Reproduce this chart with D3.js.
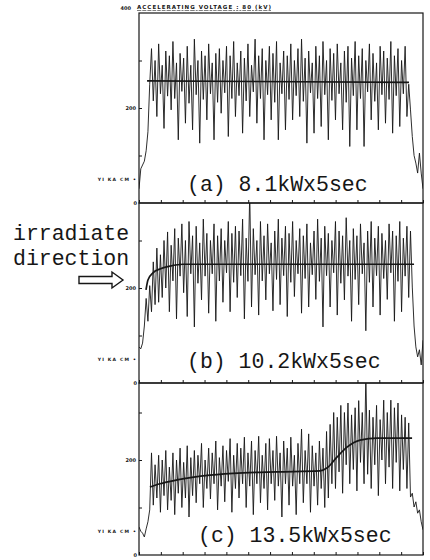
<!DOCTYPE html>
<html>
<head>
<meta charset="utf-8">
<script src="https://cdn.jsdelivr.net/npm/d3@7"></script>
<style>
  body { margin: 0; background: #fff; }
  svg { display: block; }
</style>
</head>
<body>
<div id="chart"></div>
<script>
// sampled signal, one value every step across the panel (units of the left axis)
const sigA = [30,72,80,88,110,150,250,
  325,215,300,182,335,230,290,157,320,225,310,196,340,220,295,133,315,235,305,168,330,210,290,154,345,228,300,126,320,218,310,175,335,230,295,133,315,212,325,189,300,232,330,140,310,220,340,182,295,226,320,147,305,215,335,182,290,234,345,168,310,220,325,133,300,228,330,175,315,212,340,133,295,230,320,154,310,218,335,175,300,226,325,182,345,214,305,126,320,232,295,147,330,220,310,161,340,228,300,133,325,216,315,175,335,230,295,154,320,212,330,119,305,226,340,154,310,220,325,119,300,234,335,175,315,214,295,154,330,228,320,168,305,218,340,147,310,226,325,161,300,230,330,182,
  250,196,140,100,84,63,105,63,30];

const sigB = [76,72,84,120,178,130,205,150,255,165,284,170,270,180,
  300,200,318,150,290,215,325,135,305,225,335,190,300,140,340,230,310,118,330,210,295,175,345,225,315,147,300,230,335,130,310,215,325,170,300,232,340,150,315,212,330,180,320,226,345,135,305,214,400,160,325,228,300,143,340,215,310,175,335,230,295,152,320,218,345,165,305,226,330,140,315,212,340,182,300,230,325,147,310,220,335,160,295,228,320,176,345,214,305,118,330,226,315,160,300,232,340,143,320,210,310,175,348,225,300,130,325,218,310,165,335,230,295,110,320,212,340,160,305,226,330,143,315,220,300,176,335,232,320,130,310,214,340,150,305,225,
  330,180,320,202,120,76,55,70,38,90];

const sigC = [59,50,46,38,55,70,95,
  215,105,190,120,210,90,200,125,220,95,185,115,215,85,200,130,225,100,195,120,230,80,205,125,220,110,210,150,235,100,200,140,225,118,215,150,240,95,205,145,230,112,220,155,245,90,210,140,235,120,225,150,248,100,215,145,240,85,220,150,250,110,210,140,235,95,245,150,220,115,250,145,215,80,240,150,225,105,248,145,210,85,235,150,265,110,220,150,255,90,230,145,215,105,240,140,225,100,260,120,275,150,300,140,290,175,315,130,300,190,320,150,295,180,310,135,325,195,300,150,380,170,305,140,290,190,315,125,285,200,326,150,300,185,326,140,310,195,320,135,295,180,
  290,140,278,122,130,101,112,88,95,70,53];

// smoothed fit curves [x division, value]
const fitA = [[0.37,257],[12.36,254]];
const fitB = [[0.32,196],[0.41,217],[0.64,232],[0.96,240],[1.42,246],[2.01,250],[12.59,250]];
const fitC = [[0.50,143],[0.96,150],[1.74,158],[3.25,168],[4.76,173],[6.32,175],[8.28,177],[8.6,183],[9.06,206],[9.52,227],[10.12,242],[10.9,246],[12.5,246]];

const panelLabels = ["(a) 8.1kWx5sec", "(b) 10.2kWx5sec", "(c) 13.5kWx5sec"];
const yTicks = [100, 200, 300];
const yLabelTick = 200;
const markValue = 50;
const xTicks = d3.range(0, 14);
const titleText = "ACCELERATING VOLTAGE :  80 (kV)";

const W = 430, H = 560;
const svg = d3.select("#chart").append("svg")
  .attr("width", W).attr("height", H);

const ink = "#161616";
const x = d3.scaleLinear().domain([0, 13]).range([139, 423]);

const panels = [
  { sig: sigA, fit: fitA, top: 13, bottom: 203, lx: 187, ly: 191 },
  { sig: sigB, fit: fitB, top: 203, bottom: 383, lx: 187, ly: 368 },
  { sig: sigC, fit: fitC, top: 383, bottom: 555, lx: 198, ly: 542 }
];

panels.forEach((p, k) => {
  const y = d3.scaleLinear().domain([0, 400]).range([p.bottom, p.bottom - 190]);
  const n = p.sig.length;

  svg.append("clipPath").attr("id", "clip" + k)
    .append("rect")
    .attr("x", x(0)).attr("y", p.top)
    .attr("width", x(13) - x(0)).attr("height", p.bottom - p.top);

  const g = svg.append("g");
  const plot = g.append("g").attr("clip-path", `url(#clip${k})`);

  // signal
  plot.append("path")
    .datum(p.sig)
    .attr("fill", "none")
    .attr("stroke", ink)
    .attr("stroke-width", 0.9)
    .attr("stroke-linejoin", "miter")
    .attr("d", d3.line()
      .x((d, i) => x(i * 13 / (n - 1)))
      .y(d => y(d)));

  // fit
  plot.append("path")
    .datum(p.fit)
    .attr("fill", "none")
    .attr("stroke", ink)
    .attr("stroke-width", 1.7)
    .attr("d", d3.line()
      .curve(d3.curveMonotoneX)
      .x(d => x(d[0]))
      .y(d => y(d[1])));

  // frame
  g.append("rect")
    .attr("x", x(0)).attr("y", p.top)
    .attr("width", x(13) - x(0)).attr("height", p.bottom - p.top)
    .attr("fill", "none").attr("stroke", ink).attr("stroke-width", 1.2);

  // bottom axis, ticks inward
  g.append("g")
    .attr("transform", `translate(0,${p.bottom})`)
    .call(d3.axisBottom(x).tickValues(xTicks).tickSize(-3).tickFormat(""))
    .call(a => a.select(".domain").remove())
    .selectAll("line").attr("stroke", ink).attr("stroke-width", 1);

  // left axis, ticks inward
  const ya = g.append("g")
    .attr("transform", `translate(${x(0)},0)`)
    .call(d3.axisLeft(y).tickValues(yTicks).tickSize(-3)
      .tickFormat(d => d === yLabelTick ? d : ""));
  ya.select(".domain").remove();
  ya.selectAll("line").attr("stroke", ink);
  ya.selectAll("text")
    .attr("x", -3)
    .attr("font-family", "DejaVu Sans")
    .attr("font-weight", "bold")
    .attr("font-size", 5)
    .attr("fill", ink);

  // zero and marker labels
  g.append("text")
    .attr("x", x(0) - 2).attr("y", y(0) + 2)
    .attr("text-anchor", "end")
    .attr("font-family", "DejaVu Sans").attr("font-weight", "bold")
    .attr("font-size", 5).attr("fill", ink)
    .text("0");
  g.append("text")
    .attr("x", x(0) - 2).attr("y", y(markValue) + 2)
    .attr("text-anchor", "end")
    .attr("font-family", "DejaVu Sans").attr("font-weight", "bold")
    .attr("font-size", 4.5).attr("fill", ink)
    .attr("letter-spacing", 1.2)
    .text("YI KA CM  \u2022");

  // panel label
  g.append("text")
    .attr("x", p.lx).attr("y", p.ly)
    .attr("font-family", "Liberation Mono, DejaVu Sans Mono, monospace")
    .attr("font-size", 21.5)
    .attr("fill", ink)
    .text(panelLabels[k]);
});

// title
svg.append("text")
  .attr("x", 137).attr("y", 9)
  .attr("font-family", "DejaVu Sans").attr("font-weight", "bold")
  .attr("font-size", 5.5).attr("fill", ink)
  .attr("textLength", 134).attr("lengthAdjust", "spacing")
  .attr("text-decoration", "underline")
  .text(titleText);
svg.append("text")
  .attr("x", 131).attr("y", 10)
  .attr("text-anchor", "end")
  .attr("font-family", "DejaVu Sans").attr("font-weight", "bold")
  .attr("font-size", 5).attr("fill", ink)
  .text("400");

// irradiate direction annotation
const note = svg.append("g")
  .attr("font-family", "Liberation Mono, DejaVu Sans Mono, monospace")
  .attr("font-size", 21.5).attr("fill", ink);
note.append("text").attr("x", 13).attr("y", 240).text("irradiate");
note.append("text").attr("x", 13).attr("y", 265).text("direction");

const ay = 280;
svg.append("path")
  .attr("d", `M79,${ay - 3.5} H112 V${ay - 8} L123,${ay} L112,${ay + 8} V${ay + 3.5} H79 Z`)
  .attr("fill", "#fff").attr("stroke", ink).attr("stroke-width", 1.4)
  .attr("stroke-linejoin", "miter");
</script>
</body>
</html>
